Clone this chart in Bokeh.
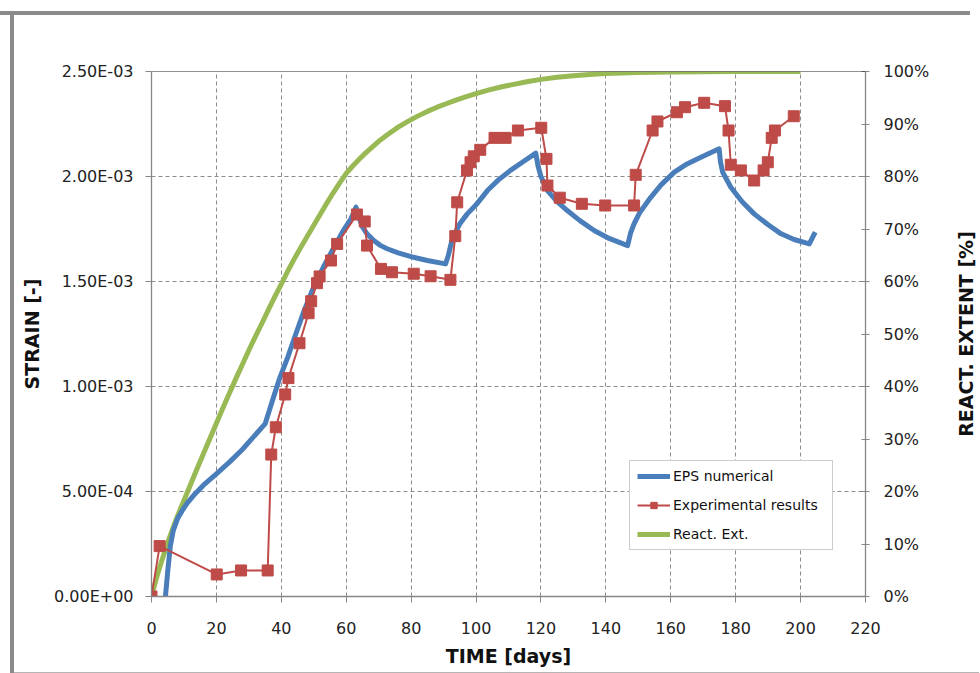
from bokeh.plotting import figure
from bokeh.models import (Range1d, LinearAxis, FixedTicker, Span, Legend, LegendItem,
                          Div, Spacer, PrintfTickFormatter)
from bokeh.layouts import column, row
from bokeh.embed import file_html
from bokeh.resources import INLINE

# ---------------- data ----------------
eps_days = [4.3, 5.0, 5.8, 6.7, 8.0, 9.5, 11, 13, 16, 20, 24, 28, 32, 35,
            37, 39.5, 42, 44, 47, 50, 53, 56, 59, 61.5, 63,
            63.8, 65, 66.4, 68.5, 70.5, 72.6, 76, 80, 85, 90.6,
            91.4, 92.3, 93.2, 95, 97.3, 100, 103.5, 107, 110.6, 114.5, 118.4,
            119.1, 120, 122, 125, 128.1, 132, 136.4, 141, 146.7,
            147.6, 148.7, 150.5, 153.9, 157, 161.1, 165, 169.3, 174.9,
            175.3, 176, 178.5, 182, 185.7, 190, 194, 198, 202.7, 204.5]
eps_strain = [0.0, 0.00012, 0.00024, 0.000314, 0.00037, 0.00041, 0.000445, 0.000482, 0.00053,
              0.000584, 0.00064, 0.00070, 0.00077, 0.000822,
              0.00092, 0.00104, 0.00114, 0.00123, 0.00136, 0.001475, 0.00157, 0.001656,
              0.00174, 0.00180, 0.001854,
              0.00181, 0.00176, 0.001727, 0.001695, 0.001672, 0.001656, 0.001636, 0.001618,
              0.00160, 0.001584,
              0.00162, 0.00168, 0.00172, 0.001775, 0.001822, 0.001865, 0.001933, 0.001985,
              0.002029, 0.00207, 0.002111,
              0.00205, 0.00200, 0.001933, 0.00188, 0.001838, 0.00179, 0.001743, 0.001705,
              0.001671,
              0.00173, 0.001775, 0.00183, 0.001902, 0.00196, 0.002021, 0.00206, 0.002092,
              0.002132,
              0.00207, 0.00202, 0.001949, 0.00188, 0.001822, 0.00177, 0.001727, 0.00170,
              0.001679, 0.001735]

exp_days = [0, 2.5, 20.1, 27.6, 35.8, 36.9, 38.3, 41.2, 42.2, 45.6, 48.4, 49.2, 51.0, 51.8,
            55.3, 57.2, 63.3, 65.7, 66.4, 70.7, 74.1, 80.8, 86.0, 92.1, 93.6, 94.2, 97.2,
            98.3, 99.3, 101.3, 105.7, 109.1, 112.9, 120.1, 121.7, 122.0, 125.8, 132.6, 139.8,
            148.7, 149.2, 154.4, 155.9, 161.9, 164.4, 170.3, 176.7, 177.8, 178.5, 181.6,
            185.7, 188.6, 189.9, 191.1, 192.1, 197.9]
exp_strain = [0.0, 0.00024, 0.000105, 0.000124, 0.000124, 0.000676, 0.000806, 0.000962,
              0.00104, 0.001206, 0.001349, 0.001406, 0.001492, 0.001524, 0.00160, 0.001679,
              0.001819, 0.001786, 0.001671, 0.00156, 0.001544, 0.001537, 0.001525, 0.001508,
              0.001716, 0.001877, 0.002029, 0.002068, 0.002096, 0.002127, 0.002184, 0.002184,
              0.002219, 0.002232, 0.002084, 0.001957, 0.001899, 0.00187, 0.001862, 0.001862,
              0.002008, 0.002219, 0.002262, 0.002306, 0.00233, 0.002351, 0.002335, 0.002219,
              0.002056, 0.002029, 0.001981, 0.002029, 0.002068, 0.002184, 0.002219, 0.002287]

react_days = [0, 1, 2, 3, 4, 5, 6, 7, 8, 9, 10, 12, 14, 16, 18, 20, 22, 24, 26, 28, 30, 32,
              34, 36, 38, 40, 42, 44, 46, 48, 50, 52, 54, 56, 58, 60, 62, 64, 66, 68, 70, 73,
              76, 79, 82, 85, 88, 91, 94, 97, 100, 104, 108, 112, 116, 120, 125, 130, 135,
              140, 150, 160, 170, 180, 190, 200]
react_pct = [0, 2.3, 4.5, 6.5, 8.4, 10.3, 12.0, 13.7, 15.3, 16.8, 18.3, 21.3, 24.3, 27.2,
             30.1, 33.0, 35.9, 38.7, 41.5, 44.2, 46.9, 49.5, 52.0, 54.6, 57.1, 59.5, 62.0,
             64.3, 66.5, 68.6, 70.7, 72.8, 74.9, 76.9, 78.8, 80.6, 82.0, 83.3, 84.5, 85.6,
             86.7, 88.1, 89.4, 90.5, 91.5, 92.4, 93.2, 93.9, 94.6, 95.2, 95.8, 96.5, 97.1,
             97.6, 98.1, 98.5, 98.9, 99.2, 99.45, 99.6, 99.8, 99.9, 99.95, 100, 100, 100]

x_ticks = [0, 20, 40, 60, 80, 100, 120, 140, 160, 180, 200, 220]
y_ticks = [0.0, 0.0005, 0.001, 0.0015, 0.002, 0.0025]
y_tick_labels = ["0.00E+00", "5.00E-04", "1.00E-03", "1.50E-03", "2.00E-03", "2.50E-03"]
pct_ticks = [0, 10, 20, 30, 40, 50, 60, 70, 80, 90, 100]

# ---------------- styles ----------------
BLUE = "#4A7EBB"
RED = "#BE4B48"
GREEN = "#98B954"
AX = "#868686"
FONT = "DejaVu Sans"
FW, FH = 714, 525
B_TOP, B_BOTTOM = 56, 76

p = figure(frame_width=FW, frame_height=FH,
           min_border_left=137, min_border_right=75, min_border_top=B_TOP,
           min_border_bottom=B_BOTTOM,
           x_range=Range1d(0, 220), y_range=Range1d(0, 0.0025),
           output_backend="svg", toolbar_location=None, margin=0)
p.extra_y_ranges = {"pct": Range1d(0, 100)}
p.outline_line_color = None
p.background_fill_color = "white"
p.border_fill_color = "white"

# axes
p.xaxis.ticker = FixedTicker(ticks=x_ticks)
p.yaxis.ticker = FixedTicker(ticks=y_ticks)
p.yaxis.major_label_overrides = {t: l for t, l in zip(y_ticks, y_tick_labels)}
p.xaxis.axis_label = "TIME [days]"
p.yaxis.axis_label = "STRAIN [-]"

ax_r = LinearAxis(y_range_name="pct", ticker=FixedTicker(ticks=pct_ticks),
                  formatter=PrintfTickFormatter(format="%d%%"))
p.add_layout(ax_r, "right")

for ax in [p.xaxis[0], p.yaxis[0], ax_r]:
    ax.axis_line_color = AX
    ax.axis_line_width = 1.3
    ax.major_tick_line_color = AX
    ax.minor_tick_line_color = None
    ax.major_tick_in = 0
    ax.major_tick_out = 6
    ax.major_label_text_font = FONT
    ax.major_label_text_font_size = "16px"
    ax.major_label_text_color = "#222222"
    ax.axis_label_text_font = FONT
    ax.axis_label_text_font_style = "bold"
    ax.axis_label_text_font_size = "19px"
    ax.axis_label_text_color = "#111111"

p.yaxis[0].major_label_standoff = 12
p.yaxis[0].axis_label_standoff = 8
p.xaxis[0].major_label_standoff = 19
p.xaxis[0].axis_label_standoff = 8
ax_r.major_tick_in = 4
ax_r.major_tick_out = 4
ax_r.major_label_standoff = 14

# grids
p.xgrid.ticker = FixedTicker(ticks=x_ticks[1:-1])
p.ygrid.ticker = FixedTicker(ticks=y_ticks[1:-1])
for g in [p.xgrid[0], p.ygrid[0]]:
    g.grid_line_color = "#8c8c8c"
    g.grid_line_dash = "4 3"
    g.grid_line_width = 1

p.add_layout(Span(location=y_ticks[-1], dimension="width", line_color="#222222", line_width=1.2))

# series
r_react = p.line(react_days, react_pct, y_range_name="pct", line_color=GREEN, line_width=5,
                 line_join="round")
r_eps = p.line(eps_days, eps_strain, line_color=BLUE, line_width=5, line_join="round")
r_exp_l = p.line(exp_days, exp_strain, line_color=RED, line_width=2)
r_exp_m = p.scatter(exp_days, exp_strain, marker="square", size=11, fill_color=RED,
                    line_color=RED)

legend = Legend(items=[LegendItem(label="EPS numerical", renderers=[r_eps]),
                       LegendItem(label="Experimental results", renderers=[r_exp_l, r_exp_m]),
                       LegendItem(label="React. Ext.", renderers=[r_react])],
                location=(478, 46), orientation="vertical")
legend.label_text_font = FONT
legend.label_text_font_size = "14px"
legend.label_text_color = "#111111"
legend.glyph_width = 33
legend.glyph_height = 16
legend.label_height = 16
legend.label_width = 152
legend.label_standoff = 3
legend.spacing = 13
legend.padding = 7
legend.margin = 0
legend.border_line_color = "#9a9a9a"
legend.border_line_width = 1.5
legend.background_fill_color = "white"
legend.background_fill_alpha = 1
p.add_layout(legend)

# right-hand title (reads bottom to top): the left-axis title of a slim companion figure
p2 = figure(frame_width=1, frame_height=FH, min_border_left=38, min_border_right=0,
            min_border_top=B_TOP, min_border_bottom=B_BOTTOM,
            x_range=Range1d(0, 1), y_range=Range1d(0, 100), x_axis_location=None,
            output_backend="svg", toolbar_location=None, margin=0)
p2.outline_line_color = None
p2.grid.visible = False
p2.border_fill_color = "white"
p2.yaxis.ticker = FixedTicker(ticks=[])
p2.yaxis.axis_line_color = None
p2.yaxis.major_tick_out = 0
p2.yaxis.major_tick_in = 0
p2.yaxis.minor_tick_line_color = None
p2.yaxis.major_label_text_font_size = "0px"
p2.yaxis.axis_label = "REACT. EXTENT [%]"
p2.yaxis.axis_label_standoff = 2
p2.yaxis.axis_label_text_font = FONT
p2.yaxis.axis_label_text_font_style = "bold"
p2.yaxis.axis_label_text_font_size = "19px"
p2.yaxis.axis_label_text_color = "#111111"

# window frame details of the screenshot
top_bar = Div(text="", width=970, height=4, margin=0, styles={"background-color": "#8a8a8a"})
left_bar = Div(text="", width=4, height=658, margin=0, styles={"background-color": "#8a8a8a"})
bottom_line = Div(text="", width=965, height=1, margin=0, styles={"background-color": "#b5b5b5"})

layout = column(Spacer(height=11, margin=0), top_bar,
                row(Spacer(width=10, margin=0), left_bar,
                    column(row(p, p2, spacing=0, margin=0), bottom_line, spacing=0, margin=0),
                    spacing=0, margin=0),
                spacing=0, margin=0)

open("out.html", "w").write(file_html(layout, INLINE))
